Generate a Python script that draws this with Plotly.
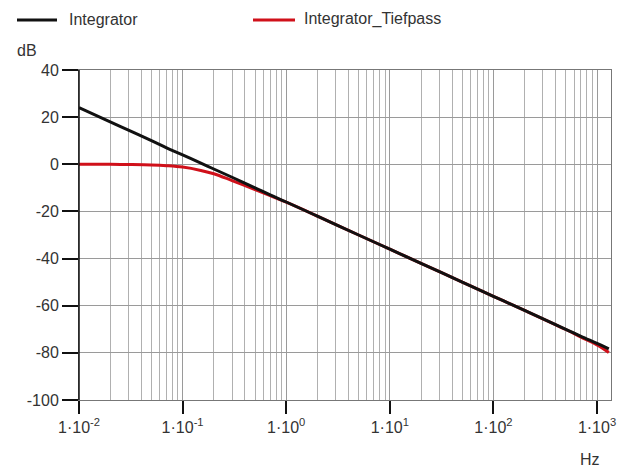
import plotly.graph_objects as go

# Frequency response of the two systems (magnitude in dB)
freq_hz = [0.01, 0.02, 0.03, 0.05, 0.07, 0.1, 0.15, 0.2, 0.3, 0.5, 0.7, 1, 2, 5,
           10, 20, 50, 100, 200, 500, 700, 1000, 1300]
integrator_db = [24, 18, 14.5, 10, 7, 4, 0.5, -2, -5.5, -10, -13, -16, -22, -30,
                 -36, -42, -50, -56, -62, -70, -73, -76, -78.3]
tiefpass_db = [0, 0, -0.1, -0.3, -0.6, -1.2, -2.6, -4, -6.9, -10.7, -13.3, -16.1,
               -22, -30, -36, -42, -50, -56, -62, -70.1, -73.3, -76.6, -79.8]

series_names = ["Integrator", "Integrator_Tiefpass"]
series_colors = ["#111111", "#d0101a"]

x_tick_vals = [0.01, 0.1, 1, 10, 100, 1000]
x_tick_text = ["1·10<sup>-2</sup>", "1·10<sup>-1</sup>", "1·10<sup>0</sup>",
               "1·10<sup>1</sup>", "1·10<sup>2</sup>", "1·10<sup>3</sup>"]
y_tick_vals = [-100, -80, -60, -40, -20, 0, 20, 40]
y_tick_text = ["-100", "-80", "-60", "-40", "-20", "0", "20", "40"]

minor_vals = [k * 10 ** e for e in range(-2, 4) for k in range(2, 10)]

W, H = 631, 472
ML, MR, MT, MB = 79, 20, 70, 72
PW, PH = W - ML - MR, H - MT - MB


def px_x(p):
    return (p - ML) / PW


def px_y(p):
    return (H - MB - p) / PH


font = dict(family="Liberation Sans, Arial, sans-serif", size=16, color="#333")

fig = go.Figure()
# red drawn first so the black curve lies on top
fig.add_trace(go.Scatter(x=freq_hz, y=tiefpass_db, mode="lines", name=series_names[1],
                         line=dict(color=series_colors[1], width=3, shape="spline")))
fig.add_trace(go.Scatter(x=freq_hz, y=integrator_db, mode="lines", name=series_names[0],
                         line=dict(color=series_colors[0], width=3, shape="spline")))

annotations = [
    dict(text="dB", xref="paper", yref="paper", x=px_x(15), y=px_y(50),
         xanchor="left", yanchor="middle", showarrow=False, font=font),
    dict(text="Hz", xref="paper", yref="paper", x=px_x(590), y=px_y(459),
         xanchor="center", yanchor="middle", showarrow=False, font=font),
]
shapes = [
    # solid dark left axis
    dict(type="line", xref="paper", yref="paper", x0=0, x1=0, y0=0, y1=1,
         line=dict(color="#111", width=1.5)),
]

# legend row above the plot
legend_items = [(17, 57, 67), (253, 295, 302)]
for (lx0, lx1, tx), name, color in zip(legend_items, series_names, series_colors):
    shapes.append(dict(type="line", xref="paper", yref="paper",
                       x0=px_x(lx0), x1=px_x(lx1), y0=px_y(20), y1=px_y(20),
                       line=dict(color=color, width=3)))
    annotations.append(dict(text=name, xref="paper", yref="paper", x=px_x(tx), y=px_y(19),
                            xanchor="left", yanchor="middle", showarrow=False, font=font))

fig.update_layout(
    width=W, height=H,
    margin=dict(l=ML, r=MR, t=MT, b=MB),
    paper_bgcolor="white", plot_bgcolor="white",
    font=font,
    showlegend=False,
    xaxis=dict(type="log", range=[-2, 3.135],
               tickvals=x_tick_vals, ticktext=x_tick_text,
               ticks="outside", ticklen=13, tickwidth=1.5, tickcolor="#111",
               showgrid=True, gridcolor="#9a9a9a", gridwidth=1,
               minor=dict(tickvals=minor_vals, showgrid=True, gridcolor="#b0b0b0", gridwidth=1),
               showline=True, linecolor="#777", linewidth=1, mirror=True,
               zeroline=False, tickfont=font),
    yaxis=dict(range=[-100, 40], tickvals=y_tick_vals, ticktext=y_tick_text,
               ticks="outside", ticklen=16, tickwidth=1.5, tickcolor="#111",
               showgrid=True, gridcolor="#9a9a9a", gridwidth=1,
               showline=True, linecolor="#777", linewidth=1, mirror=True,
               zeroline=False, tickfont=font),
    annotations=annotations,
    shapes=shapes,
)

fig.write_html("out.html")
